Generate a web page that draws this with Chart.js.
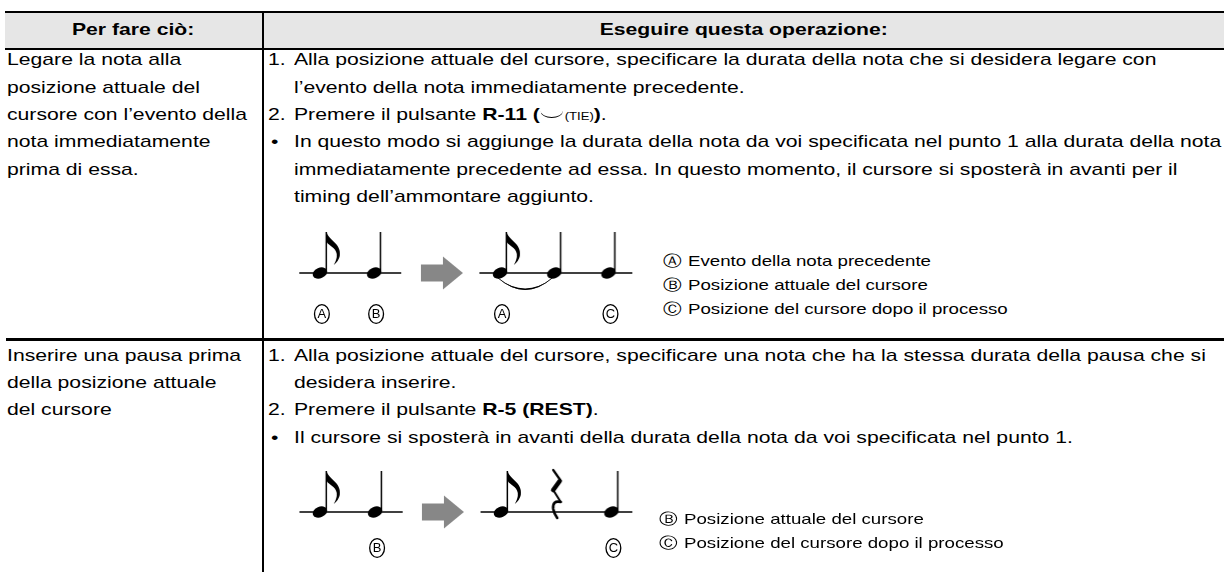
<!DOCTYPE html>
<html><head><meta charset="utf-8">
<script src="https://cdn.jsdelivr.net/npm/chart.js@4.4.1/dist/chart.umd.min.js"></script>
<style>
html,body{margin:0;padding:0;background:#fff;}
#page{position:relative;width:1224px;height:572px;overflow:hidden;font-family:"Liberation Sans",Arial,Helvetica,sans-serif;color:#000;}
.rule{position:absolute;background:#000;}
.t{position:absolute;white-space:nowrap;font-size:17px;line-height:17px;transform-origin:0 0;transform:scaleX(1.245);}
.lg{font-size:15px;line-height:15px;}
.hd{position:absolute;top:20.6px;height:17px;text-align:center;font-weight:bold;font-size:17px;line-height:17px;white-space:nowrap;}
.hd span{display:inline-block;transform:scaleX(1.245);transform-origin:50% 50%;}
.tie{display:inline-block;width:18px;height:7px;border-bottom:1.6px solid #000;border-radius:0 0 50% 50%/0 0 100% 100%;vertical-align:2px;margin:0 1px 0 1px;box-sizing:border-box;}
.sm{font-size:10.5px;}
canvas{position:absolute;}
</style></head>
<body><div id="page">
<div style="position:absolute;left:5px;top:13px;width:1219px;height:35px;background:#e6e6e6;"></div>
<div class="rule" style="left:5px;top:11px;width:1219px;height:2px;"></div>
<div class="rule" style="left:5px;top:48px;width:1219px;height:2px;"></div>
<div class="rule" style="left:6px;top:338px;width:1218px;height:3px;"></div>
<div class="rule" style="left:262px;top:11px;width:2px;height:561px;"></div>
<canvas id="dia1" width="380" height="116" style="left:280px;top:215px;"></canvas>
<canvas id="dia2" width="380" height="116" style="left:280px;top:454px;"></canvas>
</div>
<script>
// ---------- data ----------
const headers = ["Per fare ciò:", "Eseguire questa operazione:"];
const task1 = ["Legare la nota alla", "posizione attuale del", "cursore con l’evento della", "nota immediatamente", "prima di essa."];
const stepMarks1 = ["1.", "", "2.", "•", "", ""];
const stepLines1 = [
  "Alla posizione attuale del cursore, specificare la durata della nota che si desidera legare con",
  "l’evento della nota immediatamente precedente.",
  "Premere il pulsante <b>R-11 (</b><span class='tie'></span><span class='sm'>(TIE)</span><b>)</b>.",
  "In questo modo si aggiunge la durata della nota da voi specificata nel punto 1 alla durata della nota",
  "immediatamente precedente ad essa. In questo momento, il cursore si sposterà in avanti per il",
  "timing dell’ammontare aggiunto."
];
const task2 = ["Inserire una pausa prima", "della posizione attuale", "del cursore"];
const stepMarks2 = ["1.", "", "2.", "•"];
const stepLines2 = [
  "Alla posizione attuale del cursore, specificare una nota che ha la stessa durata della pausa che si",
  "desidera inserire.",
  "Premere il pulsante <b>R-5 (REST)</b>.",
  "Il cursore si sposterà in avanti della durata della nota da voi specificata nel punto 1."
];
// music diagrams: note sequence before / after the operation
const notes1Before = ["eighth", "quarter"];
const notes1After  = ["eighth", "quarter", "quarter"];
const marks1Before = ["A", "B"];
const marks1After  = ["A", "", "C"];
const tie1 = [0, 1];
const notes2Before = ["eighth", "quarter"];
const notes2After  = ["eighth", "rest", "quarter"];
const marks2Before = ["", "B"];
const marks2After  = ["", "", "C"];
const legend1Keys = ["Ⓐ", "Ⓑ", "Ⓒ"];
const legend1Texts = ["Evento della nota precedente", "Posizione attuale del cursore", "Posizione del cursore dopo il processo"];
const legend2Keys = ["Ⓑ", "Ⓒ"];
const legend2Texts = ["Posizione attuale del cursore", "Posizione del cursore dopo il processo"];

// ---------- layout ----------
const page = document.getElementById('page');
function addText(html, left, baseline, fs, cls) {
  const d = document.createElement('div');
  d.className = 't ' + (cls || '');
  d.style.left = left + 'px';
  d.style.top = (baseline - fs * 0.8465) + 'px';
  d.innerHTML = html;
  page.appendChild(d);
}
function addHeader(txt, left, width) {
  const d = document.createElement('div');
  d.className = 'hd';
  d.style.left = left + 'px';
  d.style.width = width + 'px';
  const s = document.createElement('span');
  s.textContent = txt;
  d.appendChild(s);
  page.appendChild(d);
}
addHeader(headers[0], 5, 257);
addHeader(headers[1], 264, 960);

const GAP = 27.4;
function block(taskLines, marks, lines, base) {
  taskLines.forEach((t, i) => addText(t, 7, base + i * GAP, 17));
  lines.forEach((t, i) => {
    const m = marks[i];
    if (m) addText(m, m === "•" ? 271 : 268, base + i * GAP, 17);
    addText(t, 294, base + i * GAP, 17);
  });
}
block(task1, stepMarks1, stepLines1, 65.5);
block(task2, stepMarks2, stepLines2, 361);

function legend(keys, texts, x, base) {
  keys.forEach((k, i) => {
    addText(k, x, base + i * 24, 15, 'lg');
    addText(texts[i], x + 25, base + i * 24, 15, 'lg');
  });
}
legend(legend1Keys, legend1Texts, 663, 266);
legend(legend2Keys, legend2Texts, 659, 524);

// ---------- glyph images used as Chart.js point styles ----------
function glyph(kind) {
  const c = document.createElement('canvas');
  c.width = 48; c.height = 100;
  const g = c.getContext('2d');
  const cx = 24, cy = 50;
  g.fillStyle = '#000'; g.strokeStyle = '#000';
  if (kind === 'rest') {
    g.lineCap = 'round'; g.lineJoin = 'round';
    g.lineWidth = 2.2;
    g.beginPath(); g.moveTo(cx - 3, cy - 42); g.lineTo(cx + 4, cy - 32); g.stroke();
    g.lineWidth = 4.6;
    g.beginPath(); g.moveTo(cx + 3.5, cy - 31); g.lineTo(cx - 3, cy - 22); g.stroke();
    g.lineWidth = 2;
    g.beginPath(); g.moveTo(cx - 3, cy - 22); g.lineTo(cx + 4.5, cy - 10); g.stroke();
    g.lineWidth = 2.6;
    g.beginPath(); g.moveTo(cx + 4.5, cy - 10);
    g.quadraticCurveTo(cx - 4, cy - 12, cx - 3, cy - 3);
    g.quadraticCurveTo(cx - 2, cy + 2, cx + 1, cy + 6); g.stroke();
    return c;
  }
  g.save(); g.translate(cx, cy); g.rotate(-0.42);
  g.beginPath(); g.ellipse(0, 0, 7.6, 5.3, 0, 0, Math.PI * 2); g.fill();
  g.restore();
  const sx = cx + 5.6, top = cy - 41;
  g.fillRect(sx, top, 1.5, 40);
  if (kind === 'eighth') {
    const fx = sx + 1.2;
    g.beginPath();
    g.moveTo(fx, top);
    g.bezierCurveTo(fx + 1, top + 8, fx + 15, top + 11, fx + 13, top + 24);
    g.quadraticCurveTo(fx + 12, top + 29, fx + 7, top + 33);
    g.quadraticCurveTo(fx + 10.5, top + 27, fx + 10, top + 22);
    g.bezierCurveTo(fx + 9, top + 15, fx + 2, top + 14, fx, top + 10);
    g.closePath(); g.fill();
  }
  return c;
}
function arrowGlyph() {
  const c = document.createElement('canvas');
  c.width = 44; c.height = 36;
  const g = c.getContext('2d');
  g.fillStyle = '#878787';
  g.fillRect(1, 9.5, 23, 17);
  g.beginPath(); g.moveTo(23, 1.5); g.lineTo(43, 18); g.lineTo(23, 34.5); g.closePath(); g.fill();
  return c;
}
const GLYPHS = { eighth: glyph('eighth'), quarter: glyph('quarter'), rest: glyph('rest') };
const ARROW = arrowGlyph();

function diagram(id, before, after, mBefore, mAfter, tie, L) {
  const pts = [];
  before.forEach((k, i) => pts.push({ x: i, y: 0, kind: k, mark: mBefore[i] }));
  after.forEach((k, i) => pts.push({ x: L.gap + i, y: 0, kind: k, mark: mAfter[i] }));
  const xmin = L.xmin, xmax = L.xmin + 380 / L.ppb;
  new Chart(document.getElementById(id), {
    type: 'scatter',
    data: {
      datasets: [
        { data: pts, pointStyle: ctx => GLYPHS[ctx.raw ? ctx.raw.kind : 'quarter'], pointRadius: 5, clip: false },
        { data: [{ x: L.arrowAt, y: 0 }], pointStyle: ARROW, pointRadius: 5, clip: false },
        { data: [{ x: -L.lead, y: 0 }, { x: before.length - 1 + L.tail, y: 0 }], showLine: true, borderColor: '#000', borderWidth: 1.3, pointRadius: 0, clip: false },
        { data: [{ x: L.gap - L.lead, y: 0 }, { x: L.gap + after.length - 1 + L.tail2, y: 0 }], showLine: true, borderColor: '#000', borderWidth: 1.3, pointRadius: 0, clip: false }
      ]
    },
    options: {
      responsive: false, animation: false, events: [],
      layout: { padding: 0 },
      plugins: { legend: { display: false }, tooltip: { enabled: false } },
      scales: {
        x: { type: 'linear', min: xmin, max: xmax, display: false },
        y: { type: 'linear', min: -1, max: 1, display: false }
      }
    },
    plugins: [{
      id: 'marks',
      afterDatasetsDraw(chart) {
        const g = chart.ctx, xs = chart.scales.x, ys = chart.scales.y;
        const base = ys.getPixelForValue(0);
        g.save();
        g.strokeStyle = '#000'; g.fillStyle = '#000';
        pts.forEach(p => {
          if (!p.mark) return;
          const px = xs.getPixelForValue(p.x) + 2, py = base + L.labelDy;
          g.lineWidth = 1.3;
          g.beginPath(); g.ellipse(px, py, 7.4, 9.4, 0, 0, Math.PI * 2); g.stroke();
          g.font = '13px "Liberation Sans", Arial, sans-serif';
          g.textAlign = 'center'; g.textBaseline = 'middle';
          g.fillText(p.mark, px, py + 0.5);
        });
        if (tie) {
          const a = xs.getPixelForValue(L.gap + tie[0]) - 2;
          const b = xs.getPixelForValue(L.gap + tie[1]) - 2;
          const m = (a + b) / 2;
          g.beginPath();
          g.moveTo(a, base + 5);
          g.quadraticCurveTo(m, base + 29, b, base + 5);
          g.quadraticCurveTo(m, base + 26, a, base + 5);
          g.closePath(); g.fill();
          g.lineWidth = 0.8;
          g.beginPath(); g.moveTo(a, base + 5); g.quadraticCurveTo(m, base + 28, b, base + 5); g.stroke();
        }
        g.restore();
      }
    }]
  });
}
diagram('dia1', notes1Before, notes1After, marks1Before, marks1After, tie1,
  { ppb: 56, xmin: -35 / 56, gap: 186 / 56, arrowAt: 126 / 56, lead: 0.38, tail: 0.5, tail2: 0.44, labelDy: 41 });
diagram('dia2', notes2Before, notes2After, marks2Before, marks2After, null,
  { ppb: 57, xmin: -35 / 57, gap: 187 / 57, arrowAt: 127 / 57, lead: 0.37, tail: 0.5, tail2: 0.38, labelDy: 36 });
</script>
</body></html>
